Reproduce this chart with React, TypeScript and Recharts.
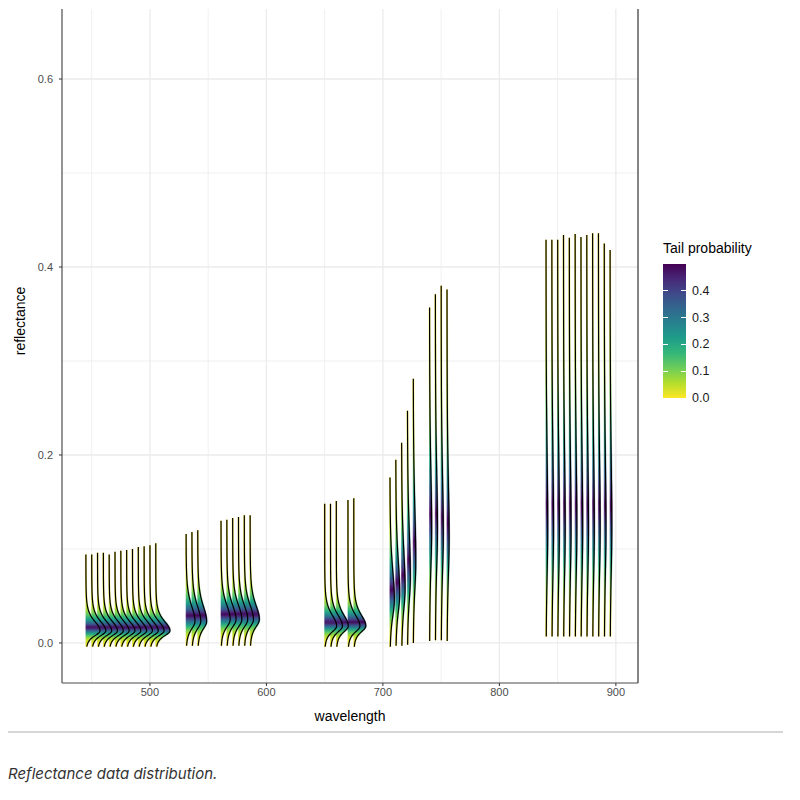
import React from "react"
import {
  ComposedChart,
  Area,
  Line,
  XAxis,
  YAxis,
  CartesianGrid,
  ReferenceLine,
} from "recharts"

// band wavelengths (nm), one ridge each
const wavelengths = [
  445, 450, 455, 460, 465, 470, 475, 480, 485, 490, 495, 500, 505,
  531, 536, 541,
  561, 566, 571, 576, 581, 586,
  650, 655, 660, 670, 675,
  706, 711, 716, 721, 726,
  740, 745, 750, 755,
  840, 845, 850, 855, 860, 865, 870, 875, 880, 885, 890, 895,
]

// lowest / highest reflectance of each band
const lowRefl = [
  -0.004, -0.004, -0.004, -0.004, -0.004, -0.004, -0.004, -0.004, -0.004, -0.004, -0.004, -0.004, -0.004,
  -0.003, -0.003, -0.003,
  -0.003, -0.003, -0.003, -0.003, -0.003, -0.003,
  -0.004, -0.004, -0.004, -0.004, -0.004,
  -0.004, -0.003, -0.003, -0.002, 0.0,
  0.002, 0.003, 0.003, 0.002,
  0.007, 0.007, 0.007, 0.007, 0.007, 0.007, 0.007, 0.007, 0.007, 0.007, 0.007, 0.007,
]
const highRefl = [
  0.094, 0.094, 0.096, 0.096, 0.094, 0.097, 0.098, 0.099, 0.1, 0.102, 0.103, 0.104, 0.106,
  0.116, 0.118, 0.12,
  0.13, 0.131, 0.133, 0.134, 0.136, 0.136,
  0.148, 0.148, 0.151, 0.152, 0.154,
  0.176, 0.195, 0.213, 0.247, 0.281,
  0.357, 0.371, 0.38, 0.376,
  0.429, 0.429, 0.429, 0.434, 0.431, 0.435, 0.432, 0.434, 0.436, 0.436, 0.425, 0.418,
]
// most frequent reflectance and spread below / above it
const modeRefl = [
  0.013, 0.013, 0.013, 0.013, 0.013, 0.013, 0.013, 0.013, 0.013, 0.013, 0.013, 0.013, 0.013,
  0.023, 0.023, 0.023,
  0.025, 0.025, 0.025, 0.025, 0.025, 0.025,
  0.018, 0.018, 0.018, 0.018, 0.018,
  0.046, 0.052, 0.058, 0.07, 0.085,
  0.12, 0.12, 0.115, 0.11,
  0.12, 0.12, 0.12, 0.12, 0.12, 0.12, 0.12, 0.12, 0.12, 0.12, 0.12, 0.12,
]
const spreadLow = [
  0.006, 0.006, 0.006, 0.006, 0.006, 0.006, 0.006, 0.006, 0.006, 0.006, 0.006, 0.006, 0.006,
  0.009, 0.009, 0.009,
  0.009, 0.009, 0.009, 0.009, 0.009, 0.009,
  0.007, 0.007, 0.007, 0.007, 0.007,
  0.02, 0.022, 0.025, 0.028, 0.032,
  0.045, 0.045, 0.045, 0.045,
  0.055, 0.055, 0.055, 0.055, 0.055, 0.055, 0.055, 0.055, 0.055, 0.055, 0.055, 0.055,
]
const spreadHigh = [
  0.011, 0.011, 0.011, 0.011, 0.011, 0.011, 0.011, 0.011, 0.011, 0.011, 0.011, 0.011, 0.011,
  0.018, 0.018, 0.018,
  0.017, 0.017, 0.017, 0.017, 0.017, 0.017,
  0.013, 0.013, 0.013, 0.013, 0.013,
  0.035, 0.04, 0.045, 0.055, 0.065,
  0.07, 0.07, 0.07, 0.07,
  0.09, 0.09, 0.09, 0.09, 0.09, 0.09, 0.09, 0.09, 0.09, 0.09, 0.09, 0.09,
]

const xTicks = [500, 600, 700, 800, 900]
const xMinor = [450, 550, 650, 750, 850]
const yTicks = [0, 0.2, 0.4, 0.6]
const yMinor = [0.1, 0.3, 0.5]
const legendTicks = [0, 0.1, 0.2, 0.3, 0.4]

const X_DOMAIN: [number, number] = [424.5, 919]
const Y_DOMAIN: [number, number] = [-0.0426, 0.6745]
const PLOT_TOP = 9
const PLOT_HEIGHT = 674
const RIDGE_SCALE = 0.27 // nm per unit of density
const TAIL_DF = 4 // heavier tails than a normal curve

const viridis = ["#440154", "#482878", "#3E4A89", "#31688E", "#26828E", "#1F9E89", "#35B779", "#6DCD59", "#B4DE2C", "#FDE725"]

function viridisAt(t: number) {
  const v = Math.max(0, Math.min(1, t)) * (viridis.length - 1)
  const i = Math.min(viridis.length - 2, Math.floor(v))
  const f = v - i
  const a = viridis[i], b = viridis[i + 1]
  const ch = (s: string, k: number) => parseInt(s.slice(1 + k * 2, 3 + k * 2), 16)
  const c = [0, 1, 2].map((k) => Math.round(ch(a, k) + (ch(b, k) - ch(a, k)) * f))
  return `rgb(${c[0]},${c[1]},${c[2]})`
}

// pixel row of a reflectance value, only used to place the fill gradients
const yPx = (y: number) => PLOT_TOP + ((Y_DOMAIN[1] - y) / (Y_DOMAIN[1] - Y_DOMAIN[0])) * PLOT_HEIGHT

// density of each band (split t curve, trimmed to the observed range)
const ridges = wavelengths.map((w, i) => {
  const lo = lowRefl[i], hi = highRefl[i], m = modeRefl[i]
  const g = (y: number) => {
    const s = y < m ? spreadLow[i] : spreadHigh[i]
    const u = (y - m) / s
    return Math.pow(1 + (u * u) / TAIL_DF, -(TAIL_DF + 1) / 2)
  }
  const n = 800
  const dy = (hi - lo) / n
  const cum = [0]
  for (let k = 1; k <= n; k++) cum.push(cum[k - 1] + ((g(lo + (k - 1) * dy) + g(lo + k * dy)) / 2) * dy)
  const z = cum[n]
  const density = (y: number) => g(y) / z
  const cdf = (y: number) => cum[Math.max(0, Math.min(n, Math.round((y - lo) / dy)))] / z
  const stops = Array.from({ length: 61 }, (_, k) => {
    const y = hi - ((hi - lo) * k) / 60
    const F = cdf(y)
    const tail = Math.min(F, 1 - F)
    return { offset: k / 60, color: viridisAt(1 - 2 * tail) }
  })
  return { w, lo, hi, density, stops }
})

const ySet = new Set<number>()
for (let k = 0; k <= 446; k++) ySet.add(Math.round((-0.006 + k * 0.001) * 1e6) / 1e6)
ridges.forEach((r) => {
  ySet.add(r.lo)
  ySet.add(r.hi)
})
const rows = Array.from(ySet)
  .sort((a, b) => a - b)
  .map((y) => {
    const row: Record<string, any> = { r: y }
    ridges.forEach((rd, i) => {
      if (y >= rd.lo - 1e-9 && y <= rd.hi + 1e-9) {
        const top = rd.w + RIDGE_SCALE * rd.density(y)
        row[`a${i}`] = [rd.w, top]
        row[`l${i}`] = top
        row[`b${i}`] = rd.w
      } else {
        row[`a${i}`] = null
        row[`l${i}`] = null
        row[`b${i}`] = null
      }
    })
    return row
  })

const font = "'Liberation Sans', Arial, sans-serif"
const tickStyle = { fill: "#4d4d4d", fontSize: 11, fontFamily: font }

export default function App() {
  const order = ridges.map((_, i) => i).reverse()
  return (
    <div style={{ position: "absolute", left: 0, top: 0, width: 800, height: 800, background: "#fff" }}>
      <ComposedChart
        width={800}
        height={700}
        data={rows}
        layout="vertical"
        margin={{ top: PLOT_TOP, right: 162, bottom: 0, left: 22 }}
      >
        <defs>
          {ridges.map((rd, i) => (
            <linearGradient
              key={i}
              id={`tail${i}`}
              gradientUnits="userSpaceOnUse"
              x1="0"
              y1={yPx(rd.hi)}
              x2="0"
              y2={yPx(rd.lo)}
            >
              {rd.stops.map((s, k) => (
                <stop key={k} offset={s.offset} stopColor={s.color} />
              ))}
            </linearGradient>
          ))}
        </defs>
        <CartesianGrid horizontalValues={yMinor} verticalValues={xMinor} stroke="#ececec" strokeWidth={0.8} />
        <CartesianGrid horizontalValues={yTicks} verticalValues={xTicks} stroke="#ebebeb" strokeWidth={1.3} />
        <XAxis
          type="number"
          domain={X_DOMAIN}
          allowDataOverflow
          ticks={xTicks}
          height={17}
          tickSize={3}
          tickMargin={2}
          tick={tickStyle}
          axisLine={{ stroke: "#4d4d4d", strokeWidth: 1.2 }}
          tickLine={{ stroke: "#333" }}
        />
        <YAxis
          type="number"
          dataKey="r"
          domain={Y_DOMAIN}
          allowDataOverflow
          reversed
          ticks={yTicks}
          width={40}
          tickSize={3}
          tickMargin={6}
          tick={tickStyle}
          tickFormatter={(v: number) => v.toFixed(1)}
          axisLine={{ stroke: "#4d4d4d", strokeWidth: 1.2 }}
          tickLine={{ stroke: "#333" }}
        />
        <ReferenceLine x={X_DOMAIN[1]} stroke="#333" strokeWidth={1.2} />
        {order.map((i) => (
          <Area
            key={`a${i}`}
            dataKey={`a${i}`}
            type="monotone"
            stroke="none"
            fill={`url(#tail${i})`}
            fillOpacity={1}
            isAnimationActive={false}
          />
        ))}
        {order.map((i) => (
          <Line
            key={`b${i}`}
            dataKey={`b${i}`}
            type="linear"
            stroke={`url(#tail${i})`}
            strokeWidth={0.8}
            strokeOpacity={0.8}
            dot={false}
            activeDot={false}
            isAnimationActive={false}
          />
        ))}
        {order.map((i) => (
          <Line
            key={`h${i}`}
            dataKey={`l${i}`}
            type="monotone"
            stroke={`url(#tail${i})`}
            strokeWidth={2}
            strokeOpacity={0.6}
            dot={false}
            activeDot={false}
            isAnimationActive={false}
          />
        ))}
        {order.map((i) => (
          <Line
            key={`l${i}`}
            dataKey={`l${i}`}
            type="monotone"
            stroke="#000"
            strokeWidth={1.2}
            dot={false}
            activeDot={false}
            isAnimationActive={false}
          />
        ))}
      </ComposedChart>

      <div
        style={{ position: "absolute", left: 350, top: 716, transform: "translate(-50%, -50%)", fontFamily: font, fontSize: 14, color: "#000" }}
      >
        wavelength
      </div>
      <div
        style={{
          position: "absolute",
          left: 20,
          top: 321,
          transform: "translate(-50%, -50%) rotate(-90deg)",
          fontFamily: font,
          fontSize: 14,
          color: "#000",
          whiteSpace: "nowrap",
        }}
      >
        reflectance
      </div>

      {/* colour bar legend */}
      <div style={{ position: "absolute", left: 663, top: 240, fontFamily: font, fontSize: 14, color: "#000", whiteSpace: "nowrap" }}>
        Tail probability
      </div>
      <div
        style={{
          position: "absolute",
          left: 663,
          top: 264,
          width: 23,
          height: 134,
          background: `linear-gradient(to bottom, ${viridis.join(", ")})`,
        }}
      />
      {legendTicks.map((v) => {
        const y = 398 - (v / 0.5) * 134
        return (
          <React.Fragment key={v}>
            <div style={{ position: "absolute", left: 663, top: y - 0.5, width: 5, height: 1, background: "#fff" }} />
            <div style={{ position: "absolute", left: 681, top: y - 0.5, width: 5, height: 1, background: "#fff" }} />
            <div
              style={{ position: "absolute", left: 692, top: y, transform: "translateY(-50%)", fontFamily: font, fontSize: 12.5, color: "#1a1a1a" }}
            >
              {v.toFixed(1)}
            </div>
          </React.Fragment>
        )
      })}

      <div style={{ position: "absolute", left: 8, top: 731, width: 775, height: 1.5, background: "#d6d6d6" }} />
      <div
        style={{ position: "absolute", left: 8, top: 773, transform: "translateY(-50%)", fontFamily: "Inter, sans-serif", fontStyle: "italic", fontSize: 15, color: "#333" }}
      >
        Reflectance data distribution.
      </div>
    </div>
  )
}
